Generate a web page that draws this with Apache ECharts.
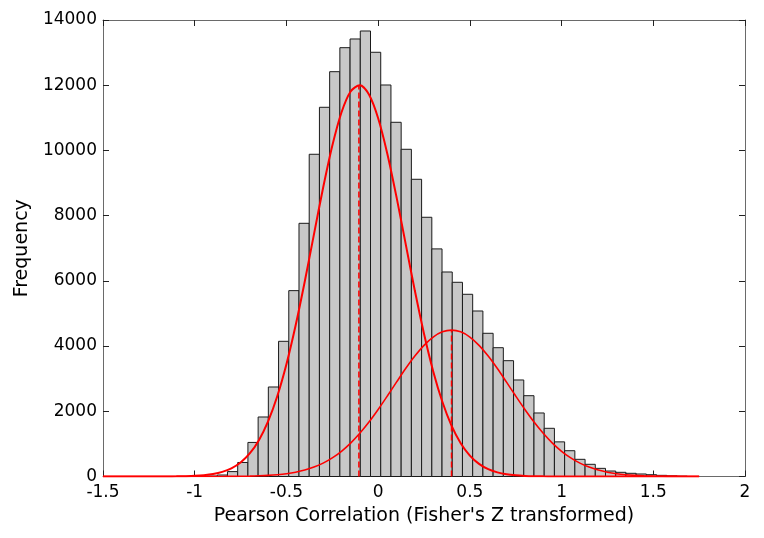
<!DOCTYPE html>
<html>
<head>
<meta charset="utf-8">
<script src="https://cdn.jsdelivr.net/npm/echarts@6/dist/echarts.min.js"></script>
<style>html,body{margin:0;padding:0;background:#fff}#c{width:764px;height:538px}</style>
</head>
<body>
<div id="c"></div>
<script>
// Histogram bins (Fisher's Z transformed Pearson correlation)
var binStart = -0.9885;
var binWidth = 0.0557;
var binCounts = [5, 15, 46, 150, 430, 1045, 1825, 2745, 4146, 5700,
  7765, 9882, 11323, 12415, 13151, 13418, 13663, 13010, 12007, 10863,
  10035, 9115, 7950, 6980, 6272, 5956, 5588, 5076, 4392, 3950,
  3552, 2960, 2478, 1948, 1478, 1062, 791, 527, 374, 250,
  168, 128, 98, 77, 55, 35, 20, 10];

// Fitted curves
var curveX = [-1.5,-1.45,-1.4,-1.35,-1.3,-1.25,-1.2,-1.15,-1.1,-1.05,-1,-0.95,-0.9,-0.85,-0.8,-0.75,-0.7,-0.65,-0.6,-0.55,-0.5,-0.45,-0.4,-0.35,-0.3,-0.25,-0.2,-0.15,-0.1,-0.05,0,0.05,0.1,0.15,0.2,0.25,0.3,0.35,0.4,0.45,0.5,0.55,0.6,0.65,0.7,0.75,0.8,0.85,0.9,0.95,1,1.05,1.1,1.15,1.2,1.25,1.3,1.35,1.4,1.45,1.5,1.55,1.6,1.65,1.7,1.75];
var curve1 = [0,0,0,0,0,0,0,2,4,10,20,40,76,142,252,430,707,1115,1690,2461,3444,4631,5982,7426,8855,10144,11164,11807,11998,11713,10987,9901,8574,7134,5702,4379,3231,2291,1560,1021,642,388,225,126,67,35,17,8,4,2,0,0,0,0,0,0,0,0,0,0,0,0,0,0,0,0];
var curve2 = [0,0,0,0,0,0,0,0,0,0,0,0,1,2,4,7,12,21,34,55,86,132,197,288,410,571,774,1025,1325,1670,2056,2469,2893,3310,3693,4023,4276,4436,4490,4436,4276,4023,3693,3310,2893,2469,2056,1670,1325,1025,774,571,410,288,197,132,86,55,34,21,12,7,4,2,1,0];

// Component means and peak heights (dashed markers)
var compMeans = [-0.105, 0.4];
var compPeaks = [11998, 4490];

// Axis ticks
var xTicks = { min: -1.5, max: 2, interval: 0.5 };
var yTicks = { min: 0, max: 14000, interval: 2000 };

var barData = binCounts.map(function (c, i) {
  return [binStart + i * binWidth, binStart + (i + 1) * binWidth, c];
});
function pairs(xs, ys) { return xs.map(function (x, i) { return [x, ys[i]]; }); }

var FONT = 'DejaVu Sans';
var axisColor = '#6a6a6a';
function xAx(pos, labels) {
  return {
    type: 'value', position: pos, min: xTicks.min, max: xTicks.max, interval: xTicks.interval,
    axisLine: { show: true, onZero: false, lineStyle: { color: axisColor, width: 1 } },
    axisTick: { show: true, inside: true, length: 6, lineStyle: { color: '#222' } },
    axisLabel: { show: labels, margin: 8, color: '#000', fontFamily: FONT, fontSize: 17,
      formatter: function (v) { return String(v); } },
    splitLine: { show: false },
    name: labels ? "Pearson Correlation (Fisher's Z transformed)" : '',
    nameLocation: 'middle', nameGap: 25,
    nameTextStyle: { color: '#000', fontFamily: FONT, fontSize: 19 }
  };
}
function yAx(pos, labels) {
  return {
    type: 'value', position: pos, min: yTicks.min, max: yTicks.max, interval: yTicks.interval,
    axisLine: { show: true, onZero: false, lineStyle: { color: axisColor, width: 1 } },
    axisTick: { show: true, inside: true, length: 6, lineStyle: { color: '#222' } },
    axisLabel: { show: labels, margin: 6, color: '#000', fontFamily: FONT, fontSize: 17,
      formatter: function (v) { return String(v); } },
    splitLine: { show: false },
    name: labels ? 'Frequency' : '',
    nameLocation: 'middle', nameGap: 66,
    nameTextStyle: { color: '#000', fontFamily: FONT, fontSize: 19 }
  };
}

var chart = echarts.init(document.getElementById('c'), null, { renderer: 'canvas' });
chart.setOption({
  animation: false,
  backgroundColor: '#fff',
  grid: { left: 103, top: 20, width: 642, height: 456.5 },
  xAxis: [xAx('bottom', true), xAx('top', false)],
  yAxis: [yAx('left', true), yAx('right', false)],
  series: [
    {
      type: 'custom', xAxisIndex: 0, yAxisIndex: 0,
      data: barData,
      encode: { x: [0, 1], y: 2 },
      renderItem: function (params, api) {
        var p0 = api.coord([api.value(0), api.value(2)]);
        var p1 = api.coord([api.value(1), 0]);
        return {
          type: 'rect',
          shape: { x: p0[0], y: p0[1], width: p1[0] - p0[0], height: p1[1] - p0[1] },
          style: { fill: '#c8c8c8', stroke: '#1a1a1a', lineWidth: 1 }
        };
      }
    },
    {
      type: 'line', data: pairs(curveX, curve1), smooth: 0.3, symbol: 'none',
      lineStyle: { color: '#ff0000', width: 2 }, z: 5
    },
    {
      type: 'line', data: pairs(curveX, curve2), smooth: 0.3, symbol: 'none',
      lineStyle: { color: '#ff0000', width: 1.6 }, z: 5
    },
    {
      type: 'line', data: [[compMeans[0], 0], [compMeans[0], compPeaks[0]]], symbol: 'none',
      lineStyle: { color: '#ff0000', width: 1.5, type: [6, 3] }, z: 4
    },
    {
      type: 'line', data: [[compMeans[1], 0], [compMeans[1], compPeaks[1]]], symbol: 'none',
      lineStyle: { color: '#ff0000', width: 1.5, type: [6, 3] }, z: 4
    }
  ]
});
</script>
</body>
</html>
